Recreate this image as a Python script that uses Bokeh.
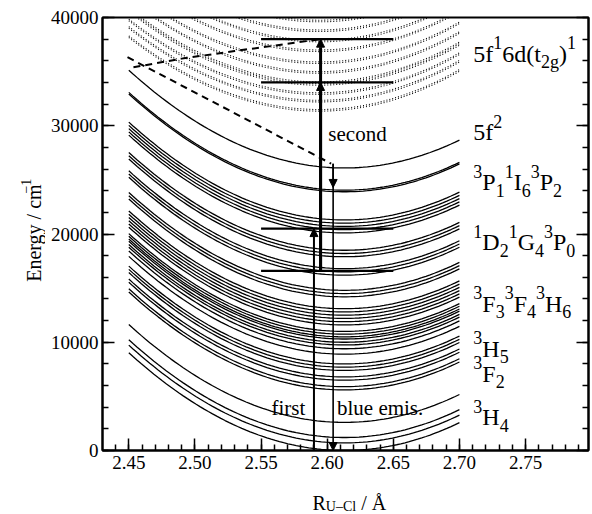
import numpy as np
from bokeh.plotting import figure
from bokeh.layouts import row, column
from bokeh.models import (Range1d, LinearAxis, FixedTicker, PrintfTickFormatter,
                          Label, Arrow, NormalHead)
from bokeh.core.properties import value
from bokeh.embed import file_html
from bokeh.resources import INLINE

# ---------------- data ----------------
r_start, r_end = 2.45, 2.70
# 5f^2 potential curves: harmonic minima (cm^-1), common equilibrium distance and force term
r0_5f2 = 2.613
k_5f2 = 340000.0
minima_5f2 = [0, 700, 1200, 2600,
              5600, 5900, 6500, 6800, 7400, 7700, 8000, 8900,
              9400, 9750, 10000, 10300, 10500, 10750, 11000,
              11600, 11900, 12200, 12500, 12800, 13100,
              14200, 14500, 14800,
              16200, 16500, 16800, 17900, 18200, 18500,
              20100, 20400, 20700, 21000, 21300,
              23900, 24050, 26100]
# 5f^1 6d(t2g)^1 curves (dotted)
r0_5f6d = 2.594
k_5f6d = 328000.0
minima_5f6d = [31350, 31500, 32200, 32350, 32900, 33050, 33750, 33900, 34050,
               34850, 35000, 35750, 35900, 36850, 37000, 37750, 37900,
               38700, 38850, 39600, 39750]

# dashed relaxation paths
dash_up_r = [2.4535, 2.49, 2.53, 2.56, 2.595]
dash_up_E = [35400, 36200, 36900, 37400, 38000]
dash_down_r = [2.449, 2.603]
dash_down_E = [36330, 26500]

# horizontal levels
level_E = [38000, 34000, 20500, 16600]
level_r = [2.55, 2.65]

# transitions
first_r, first_from, first_to = 2.59, 0, 20500
second_r, second_from, second_to = 2.595, 16600, [34000, 38000]
blue_r, blue_from, blue_to = 2.6045, 26500, [24300, 0]

x_ticks = [2.45, 2.50, 2.55, 2.60, 2.65, 2.70, 2.75]
x_minor = [round(2.44 + 0.01 * i, 2) for i in range(36)]
y_ticks = [0, 10000, 20000, 30000, 40000]
y_minor = list(range(0, 40001, 2000))

FONT = "Liberation Serif"
LW, BH = 45, 34          # left title strip width, bottom title strip height
MW, MH = 592 - LW, 514 - BH

# ---------------- main figure ----------------
p = figure(width=MW, height=MH, x_range=Range1d(2.4301, 2.7976),
           y_range=Range1d(0, 40000), output_backend="svg", toolbar_location=None,
           min_border_left=102 - LW, min_border_right=4, min_border_top=17,
           min_border_bottom=MH - 450)
p.grid.visible = False
p.outline_line_color = "black"
p.outline_line_width = 2
p.background_fill_color = "white"
p.border_fill_color = "white"

for ax in p.xaxis:
    ax.ticker = FixedTicker(ticks=x_ticks, minor_ticks=x_minor)
    ax.formatter = PrintfTickFormatter(format="%.2f")
for ax in p.yaxis:
    ax.ticker = FixedTicker(ticks=y_ticks, minor_ticks=y_minor)
for ax in list(p.xaxis) + list(p.yaxis):
    ax.major_tick_in = 12
    ax.major_tick_out = 0
    ax.minor_tick_in = 6
    ax.minor_tick_out = 0
    ax.axis_line_width = 2
    ax.major_tick_line_width = 1.5
    ax.minor_tick_line_width = 1.5
    ax.major_label_text_font = FONT
    ax.major_label_text_font_size = "19px"
    ax.major_label_text_color = "black"
    ax.axis_label = None
p.xaxis.major_label_standoff = 5
p.yaxis.major_label_standoff = 4

right = LinearAxis(ticker=FixedTicker(ticks=y_ticks, minor_ticks=y_minor),
                   major_tick_in=12, major_tick_out=0, minor_tick_in=6, minor_tick_out=0,
                   axis_line_width=2, major_tick_line_width=1.5, minor_tick_line_width=1.5,
                   major_label_overrides={t: "" for t in y_ticks},
                   major_label_text_font_size="1px", major_label_standoff=0)
p.add_layout(right, "right")

# ---------------- curves ----------------
rr = np.linspace(r_start, r_end, 80)
xs1 = [rr for _ in minima_5f2]
ys1 = [e0 + k_5f2 * (rr - r0_5f2) ** 2 for e0 in minima_5f2]
p.multi_line(xs1, ys1, line_color="black", line_width=1.3)

xs2 = [rr for _ in minima_5f6d]
ys2 = [e0 + k_5f6d * (rr - r0_5f6d) ** 2 for e0 in minima_5f6d]
p.multi_line(xs2, ys2, line_color="black", line_width=1.1, line_dash="1 2")

p.line(dash_up_r, dash_up_E, line_color="black", line_width=2, line_dash="7 5")
p.line(dash_down_r, dash_down_E, line_color="black", line_width=2, line_dash="7 5")

p.segment(x0=[level_r[0]] * len(level_E), x1=[level_r[1]] * len(level_E),
          y0=level_E, y1=level_E, line_color="black", line_width=2.2)


# ---------------- arrows ----------------
def arrow(x, y0, y1, w):
    p.add_layout(Arrow(x_start=x, y_start=y0, x_end=x, y_end=y1, line_width=w,
                       end=NormalHead(size=8, fill_color="black", line_color="black")))


arrow(first_r, first_from, first_to, 2)
for t in second_to:
    arrow(second_r, second_from, t, 3)
for t in blue_to:
    arrow(blue_r, blue_from, t, 1.6)

# ---------------- texts ----------------
W = {'5': .5, 'f': .333, '6': .5, 'd': .5, '(': .333, ')': .333, 't': .278, '2': .5,
     'g': .5, '1': .5, '3': .5, '4': .5, '0': .5, 'P': .556, 'I': .333, 'D': .722,
     'G': .722, 'F': .556, 'H': .722, 'U': .722, '–': .5, 'C': .667, 'l': .278,
     ' ': .25, '/': .278, 'Å': .722, 'R': .667, 'E': .611, 'n': .5, 'e': .444,
     'r': .333, 'y': .5, 'c': .444, 'm': .778, '−': .564}


def tw(s, size):
    return sum(W.get(c, .5) for c in s) * size


def rich(x, y, parts, F=24, S=18, up=11, down=8):
    off = 0.0
    for txt, kind in parts:
        size = F if kind == "n" else S
        d = {"n": 0, "sup": up, "sub": -down}[kind]
        p.add_layout(Label(x=x, y=y, x_offset=off, y_offset=d, text=txt,
                           text_font=FONT, text_font_size=f"{size}px",
                           text_baseline="alphabetic", text_align="left",
                           text_color="black"))
        off += tw(txt, size)


N, SP, SB = "n", "sup", "sub"
lab_x = 2.7105
right_labels = [
    (36650, [("5f", N), ("1", SP), ("6d(t", N), ("2g", SB), (")", N), ("1", SP)]),
    (29400, [("5f", N), ("2", SP)]),
    (24790, [("3", SP), ("P", N), ("1", SB), ("1", SP), ("I", N), ("6", SB),
             ("3", SP), ("P", N), ("2", SB)]),
    (19240, [("1", SP), ("D", N), ("2", SB), ("1", SP), ("G", N), ("4", SB),
             ("3", SP), ("P", N), ("0", SB)]),
    (13550, [("3", SP), ("F", N), ("3", SB), ("3", SP), ("F", N), ("4", SB),
             ("3", SP), ("H", N), ("6", SB)]),
    (9390, [("3", SP), ("H", N), ("5", SB)]),
    (7085, [("3", SP), ("F", N), ("2", SB)]),
    (3080, [("3", SP), ("H", N), ("4", SB)]),
]
for e, parts in right_labels:
    rich(lab_x, e, parts)

for x, y, t, al in [(2.5835, 3950, "first", "right"),
                    (2.6074, 3950, "blue emis.", "left"),
                    (2.6009, 29260, "second", "left")]:
    p.add_layout(Label(x=x, y=y, text=t, text_align=al, text_baseline="alphabetic",
                       text_font=FONT, text_font_size="21px", text_color="black"))


# ---------------- axis title strips (pixel coordinates) ----------------
def strip(w, h):
    f = figure(width=w, height=h, x_range=Range1d(0, w), y_range=Range1d(0, h),
               output_backend="svg", toolbar_location=None, min_border=0,
               x_axis_type=None, y_axis_type=None, title=None)
    f.grid.visible = False
    f.outline_line_color = None
    f.background_fill_color = "white"
    f.border_fill_color = "white"
    return f


left = strip(LW, MH)
ylab = [("Energy / cm", N, 20, 0), ("−1", SP, 14, 8)]
pos = MH - 293
for txt, kind, size, up in ylab:
    left.text(x=[33 - up], y=[pos], text=[txt], angle=np.pi / 2,
              text_font=value(FONT), text_font_size=value(f"{size}px"),
              text_baseline="alphabetic", text_align="left", text_color="black")
    pos += tw(txt, size)

bottom = strip(592, BH)
# (text, size, baseline shift, extra gap before)
xlab = [("R", 20, 0, 0), ("U–Cl", 14, -4, 0), ("/ Å", 20, 0, 5)]
pos = 312
for txt, size, up, gap in xlab:
    pos += gap
    bottom.text(x=[pos], y=[514 - 502 + up], text=[txt],
                text_font=value(FONT), text_font_size=value(f"{size}px"),
                text_baseline="alphabetic", text_align="left", text_color="black")
    pos += tw(txt, size)

layout = column(row(left, p, spacing=0), bottom, spacing=0)
open("out.html", "w").write(file_html(layout, INLINE))
